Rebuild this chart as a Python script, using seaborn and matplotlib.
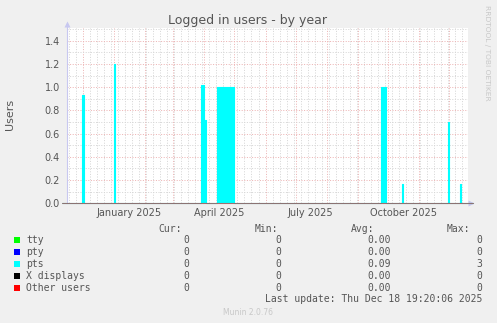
import numpy as np
import pandas as pd
import matplotlib
matplotlib.use("Agg")
import matplotlib.pyplot as plt
import matplotlib.dates as mdates
from matplotlib.patches import Rectangle
from matplotlib.ticker import MultipleLocator, FormatStrFormatter
import seaborn as sns

# ---------------- data ----------------
series_names = ["tty", "pty", "pts", "X displays", "Other users"]
series_colors = ["#00FF00", "#0000FF", "#00FFFF", "#000000", "#FF0000"]
cur_vals = ["0", "0", "0", "0", "0"]
min_vals = ["0", "0", "0", "0", "0"]
avg_vals = ["0.00", "0.00", "0.09", "0.00", "0.00"]
max_vals = ["0", "0", "3", "0", "0"]

# pts activity bursts (start day, end day exclusive, users)
pts_start = ["2024-11-30", "2025-01-01", "2025-03-29", "2025-04-01", "2025-04-14",
             "2025-09-24", "2025-10-15", "2025-11-30", "2025-12-12"]
pts_end = ["2024-12-02", "2025-01-02", "2025-04-01", "2025-04-03", "2025-05-01",
           "2025-09-29", "2025-10-16", "2025-12-01", "2025-12-13"]
pts_value = [0.93, 1.2, 1.02, 0.72, 1.0, 1.0, 0.17, 0.70, 0.17]

month_labels = ["January 2025", "April 2025", "July 2025", "October 2025"]
month_label_dates = ["2025-01-16", "2025-04-16", "2025-07-16", "2025-10-16"]

y_ticks = [0.0, 0.2, 0.4, 0.6, 0.8, 1.0, 1.2, 1.4]

# build daily frame
dates = pd.date_range("2024-11-10", "2025-12-25", freq="D")
pts = pd.Series(0.0, index=dates)
for s, e, v in zip(pts_start, pts_end, pts_value):
    pts[(pts.index >= pd.Timestamp(s)) & (pts.index < pd.Timestamp(e))] = v
frames = []
for name in series_names:
    vals = pts.values if name == "pts" else np.zeros(len(dates))
    frames.append(pd.DataFrame({"date": dates, "series": name, "value": vals}))
df = pd.concat(frames, ignore_index=True)

# ---------------- figure ----------------
sns.set_style("white")
plt.rcParams["font.family"] = ["DejaVu Sans"]

W, H = 497, 323
BG = "#F0F0F0"
TXT = "#555555"
fig = plt.figure(figsize=(W / 100, H / 100), dpi=100, facecolor=BG)

L, R, T, B = 67, 468, 28, 203.3
ax = fig.add_axes([L / W, 1 - B / H, (R - L) / W, (B - T) / H])
ax.set_facecolor("white")

ax.fill_between(pts.index, pts.values, step="post", color="#00FFFF", lw=0, zorder=2)
sns.lineplot(data=df, x="date", y="value", hue="series", hue_order=series_names,
             palette=series_colors, drawstyle="steps-post", lw=0.8, legend=False,
             ax=ax)
for ln in ax.get_lines():
    ln.set_clip_on(False)
    c = matplotlib.colors.to_hex(ln.get_color()).upper()
    if c == "#FF0000":
        ln.set_zorder(5)
        ln.set_alpha(0.55)
    elif c == "#00FFFF":
        ln.set_zorder(3)
    else:
        ln.set_zorder(1.5)
        ln.set_visible(False) if c != "#00FFFF" else None

jan1 = pd.Timestamp("2025-01-01")
ax.set_xlim(jan1 - pd.Timedelta(days=46.8), jan1 + pd.Timedelta(days=352.7))
ax.set_ylim(0, 1.51)

# grid
ax.xaxis.set_major_locator(mdates.MonthLocator())
ax.xaxis.set_minor_locator(mdates.WeekdayLocator(byweekday=mdates.SU))
ax.xaxis.set_major_formatter(plt.NullFormatter())
ax.yaxis.set_major_locator(MultipleLocator(0.2))
ax.yaxis.set_minor_locator(MultipleLocator(0.1))
ax.set_yticks(y_ticks)
ax.yaxis.set_major_formatter(FormatStrFormatter("%.1f"))
ax.set_axisbelow(True)
ax.grid(which="minor", color="#D6D6D6", lw=0.72, ls=(0, (1, 1.6)))
ax.grid(which="major", color="#EDB4B4", lw=0.72, ls=(0, (1, 1.6)))
ax.tick_params(axis="both", which="major", length=2, width=0.7, color="#E8A0A0",
               labelsize=7, labelcolor=TXT, pad=3)
ax.tick_params(axis="both", which="minor", length=0)
ax.set_xlabel("")
ax.set_ylabel("")

for lab, d in zip(month_labels, month_label_dates):
    ax.text(pd.Timestamp(d), -0.075, lab, transform=ax.get_xaxis_transform(),
            ha="center", va="baseline", fontsize=7, color=TXT)

for sp in ["top", "right", "bottom"]:
    ax.spines[sp].set_visible(False)
ax.spines["left"].set_color("#C8C8F0")
ax.spines["left"].set_linewidth(0.8)
ax.spines["left"].set_bounds(0, 1.51 + 4 / 116.1)

# axis arrows
ax.plot([0], [1 + 4 / (B - T)], marker="^", ms=4, color="#C8C8F0", mec="none",
        transform=ax.transAxes, clip_on=False)
ax.plot([1 + 3 / (R - L)], [0], marker=">", ms=4, color="#C8C8F0", mec="none",
        transform=ax.transAxes, clip_on=False)

def fx(x):
    return x / W

def fy(y):
    return 1 - y / H

fig.text(fx(248), fy(24), "Logged in users - by year", ha="center", va="baseline",
         fontsize=9, color=TXT)
fig.text(fx(10.5), fy(114), "Users", rotation=90, ha="center", va="center",
         fontsize=8, color=TXT)
fig.text(fx(487), fy(5), "RRDTOOL / TOBI OETIKER", rotation=270, ha="center",
         va="top", fontsize=5.4, color="#C8C8C8")

mono = "DejaVu Sans Mono"
hdr_y = 231.5
fig.text(fx(182), fy(hdr_y), "Cur:", ha="right", va="baseline", fontsize=7,
         family=mono, color=TXT)
fig.text(fx(278), fy(hdr_y), "Min:", ha="right", va="baseline", fontsize=7,
         family=mono, color=TXT)
fig.text(fx(374), fy(hdr_y), "Avg:", ha="right", va="baseline", fontsize=7,
         family=mono, color=TXT)
fig.text(fx(470), fy(hdr_y), "Max:", ha="right", va="baseline", fontsize=7,
         family=mono, color=TXT)

for i, (name, col) in enumerate(zip(series_names, series_colors)):
    by = 243.3 + i * 12.0
    fig.patches.append(Rectangle((fx(14), fy(by - 0.5)), 6 / W, 6 / H,
                                 transform=fig.transFigure, color=col, lw=0))
    fig.text(fx(26.5), fy(by), name, ha="left", va="baseline", fontsize=7,
             family=mono, color=TXT)
    fig.text(fx(189.5), fy(by), cur_vals[i], ha="right", va="baseline",
             fontsize=7, family=mono, color=TXT)
    fig.text(fx(281), fy(by), min_vals[i], ha="right", va="baseline",
             fontsize=7, family=mono, color=TXT)
    fig.text(fx(391), fy(by), avg_vals[i], ha="right", va="baseline",
             fontsize=7, family=mono, color=TXT)
    fig.text(fx(482.5), fy(by), max_vals[i], ha="right", va="baseline",
             fontsize=7, family=mono, color=TXT)

fig.text(fx(482.5), fy(302.5), "Last update: Thu Dec 18 19:20:06 2025", ha="right",
         va="baseline", fontsize=7, family=mono, color=TXT)
fig.text(fx(248), fy(315), "Munin 2.0.76", ha="center", va="baseline",
         fontsize=5.5, color="#C8C8C8")

fig.savefig("out.png", dpi=100, facecolor=BG)
